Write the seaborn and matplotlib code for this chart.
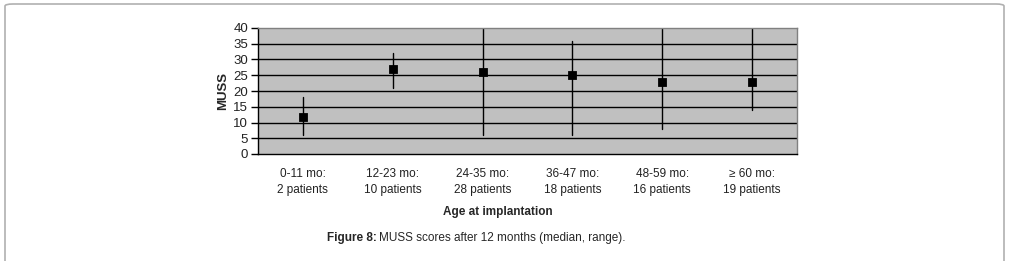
import numpy as np
import pandas as pd
import seaborn as sns
import matplotlib.pyplot as plt
from matplotlib.patches import FancyBboxPatch

# MUSS after 12 months per age group: minimum, median, maximum
groups = ['0-11 mo:\n2 patients', '12-23 mo:\n10 patients', '24-35 mo:\n28 patients',
          '36-47 mo:\n18 patients', '48-59 mo:\n16 patients', '\u2265 60 mo:\n19 patients']
muss_min = [6, 21, 6, 6, 8, 14]
muss_median = [11.6, 27, 26, 25.2, 23, 23]
muss_max = [18, 32, 40, 36, 40, 40]
y_ticks = [0, 5, 10, 15, 20, 25, 30, 35, 40]

rows = []
for g, lo, med, hi in zip(groups, muss_min, muss_median, muss_max):
    for v in (lo, med, hi):
        rows.append({'group': g, 'muss': v})
df = pd.DataFrame(rows)

sns.set_style('white')
plt.rcParams['font.family'] = ['Liberation Sans', 'DejaVu Sans']

fig = plt.figure(figsize=(10.09, 2.61), dpi=100)
ax = fig.add_axes([258 / 1009, 1 - 154 / 261, 539 / 1009, 126 / 261])
ax.set_facecolor('#c0c0c0')

# median as point, full range (100% percentile interval) as the bar
sns.pointplot(data=df, x='group', y='muss', order=groups, estimator=np.median,
              errorbar=('pi', 100), color='black', markers='s', linestyle='none',
              markersize=4.8, err_kws={'linewidth': 1.0}, ax=ax)

ax.set_ylim(0, 40)
ax.set_xlim(-0.5, len(groups) - 0.5)
ax.set_yticks(y_ticks)
ax.set_yticklabels([str(t) for t in y_ticks], fontsize=9.5, color='#222222')
for t in y_ticks[1:-1]:
    ax.axhline(t, color='black', lw=1.0, zorder=0.5)

ax.set_xticks(range(len(groups)))
ax.set_xticklabels(groups, fontsize=8.5, color='#222222', linespacing=1.45)
ax.tick_params(axis='x', which='major', length=0, pad=10)
ax.set_xticks(np.arange(-0.5, len(groups), 1), minor=True)
ax.tick_params(axis='x', which='minor', length=5, width=1, color='black', direction='out')
ax.tick_params(axis='y', length=5, width=1, color='black', direction='out', pad=2,
               left=True)

for s in ('top', 'right'):
    ax.spines[s].set_color('#808080')
    ax.spines[s].set_linewidth(1)
for s in ('left', 'bottom'):
    ax.spines[s].set_color('black')
    ax.spines[s].set_linewidth(1)

ax.set_xlabel('')
ax.set_ylabel('MUSS', fontsize=9.5, fontweight='bold', labelpad=3)
fig.text(498 / 1009, 1 - 212 / 261, 'Age at implantation', fontsize=8.5,
         fontweight='bold', ha='center', va='center')

fig.text(377 / 1009, 1 - 238 / 261, 'Figure 8:', fontsize=8.5, fontweight='bold',
         ha='right', va='center')
fig.text(379 / 1009, 1 - 238 / 261, 'MUSS scores after 12 months (median, range).',
         fontsize=8.5, ha='left', va='center')

# rounded frame around the figure
frame = FancyBboxPatch((5 / 1009, -0.05), 999 / 1009, 1.05 - 4 / 261,
                       boxstyle='round,pad=0,rounding_size=0.008',
                       transform=fig.transFigure, fill=False,
                       edgecolor='#b0b0b0', lw=1.2)
fig.patches.append(frame)

fig.savefig('out.png', dpi=100)
